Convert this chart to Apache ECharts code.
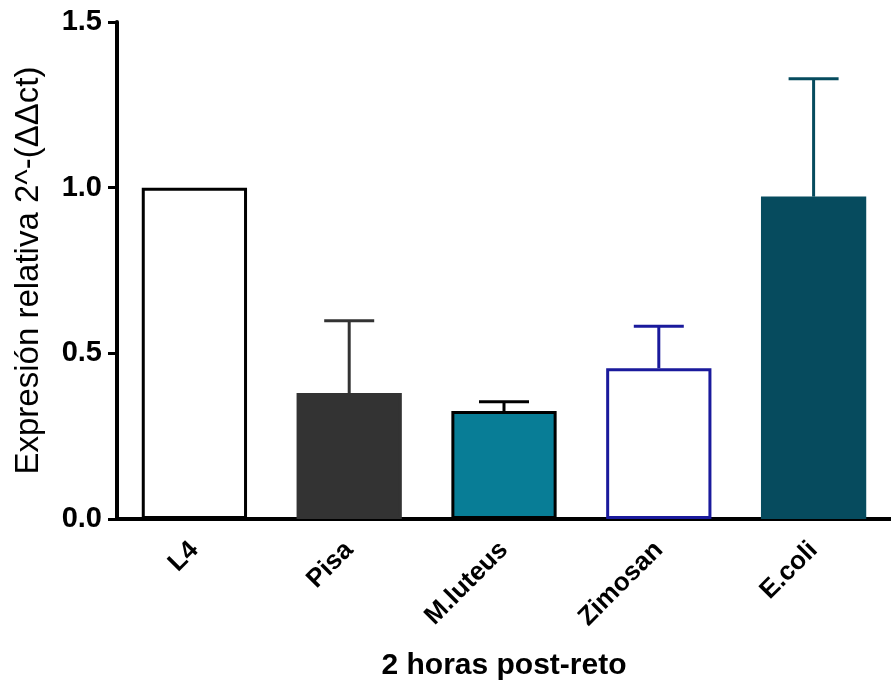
<!DOCTYPE html>
<html><head><meta charset="utf-8">
<script src="https://cdn.jsdelivr.net/npm/echarts@6/dist/echarts.min.js"></script>
<style>html,body{margin:0;padding:0;background:#fff}#c{width:891px;height:688px}</style>
</head><body><div id="c"></div>
<script>
var categories = ['L4', 'Pisa', 'M.luteus', 'Zimosan', 'E.coli'];
var means = [1.0, 0.38, 0.326, 0.455, 0.973];
var upper = [1.0, 0.598, 0.354, 0.582, 1.329];
var fills = ['#ffffff', '#333333', '#087d96', '#ffffff', '#064b5e'];
var borders = ['#000000', '#333333', '#000000', '#1a1a9c', '#064b5e'];

var chart = echarts.init(document.getElementById('c'));
chart.setOption({
  animation: false,
  grid: {left: 117, top: 22, width: 778, bottom: 169, containLabel: false},
  xAxis: {
    type: 'category', data: categories,
    name: '2 horas post-reto', nameLocation: 'middle', nameGap: 132,
    nameTextStyle: {fontFamily: 'Liberation Sans', fontWeight: 'bold', fontSize: 30, color: '#000'},
    axisLine: {lineStyle: {color: '#000', width: 4}},
    axisTick: {alignWithLabel: true, length: 10, lineStyle: {color: '#000', width: 3}},
    axisLabel: {rotate: 45, interval: 0, margin: 27, fontFamily: 'Liberation Sans', fontWeight: 'bold', fontSize: 26, color: '#000'}
  },
  yAxis: {
    type: 'value', min: 0, max: 1.5, interval: 0.5,
    name: 'Expresión relativa 2^-(ΔΔct)', nameLocation: 'middle', nameGap: 72,
    nameTextStyle: {fontFamily: 'Liberation Sans', fontSize: 33, color: '#000'},
    axisLine: {show: true, lineStyle: {color: '#000', width: 4}},
    axisTick: {show: true, length: 9, lineStyle: {color: '#000', width: 3}},
    splitLine: {show: false},
    axisLabel: {margin: 15, fontFamily: 'Liberation Sans', fontWeight: 'bold', fontSize: 29, color: '#000',
      formatter: function (v) { return v.toFixed(1); }}
  },
  series: [
    {
      type: 'bar', barWidth: '68%',
      data: means.map(function (v, i) {
        return {value: v, itemStyle: {color: fills[i], borderColor: borders[i], borderWidth: 3}};
      }),
      z: 2
    },
    {
      type: 'custom', z: 3,
      data: means.map(function (v, i) { return [i, v, upper[i]]; }),
      renderItem: function (params, api) {
        var i = api.value(0);
        var base = api.coord([i, api.value(1)]);
        var top = api.coord([i, api.value(2)]);
        var c = borders[params.dataIndex];
        var hw = 25;
        if (api.value(2) <= api.value(1)) return null;
        return {type: 'group', children: [
          {type: 'line', shape: {x1: base[0], y1: base[1], x2: top[0], y2: top[1]}, style: {stroke: c, lineWidth: 3}},
          {type: 'line', shape: {x1: top[0] - hw, y1: top[1], x2: top[0] + hw, y2: top[1]}, style: {stroke: c, lineWidth: 3}}
        ]};
      }
    }
  ]
});
</script></body></html>
